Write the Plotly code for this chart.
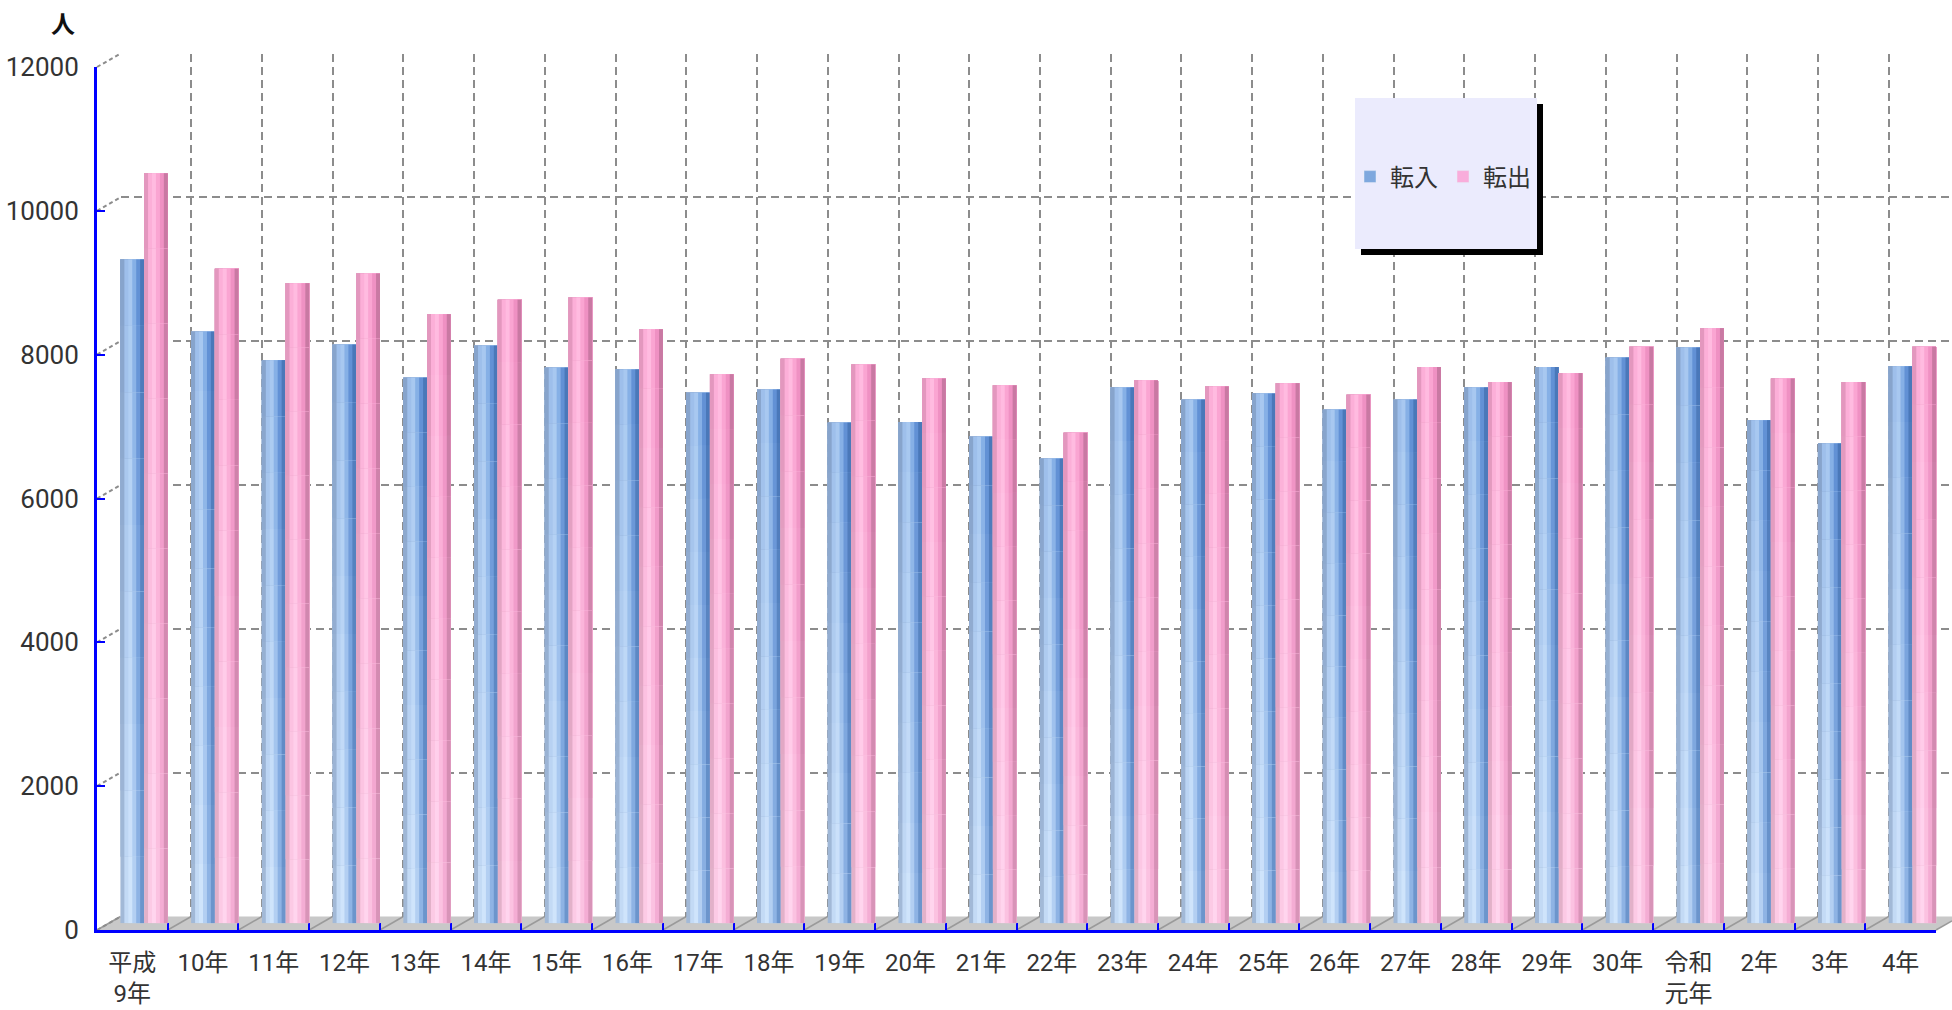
import plotly.graph_objects as go

# ---------------- data ----------------
categories = ['平成9年', '10年', '11年', '12年', '13年', '14年', '15年', '16年', '17年',
              '18年', '19年', '20年', '21年', '22年', '23年', '24年', '25年', '26年',
              '27年', '28年', '29年', '30年', '令和元年', '2年', '3年', '4年']
tick_labels = ['平成<br>9年', '10年', '11年', '12年', '13年', '14年', '15年', '16年', '17年',
               '18年', '19年', '20年', '21年', '22年', '23年', '24年', '25年', '26年',
               '27年', '28年', '29年', '30年', '令和<br>元年', '2年', '3年', '4年']
tennyu = [9230, 8225, 7830, 8045, 7585, 8030, 7725, 7700, 7375, 7420, 6960, 6970, 6765,
          6460, 7450, 7280, 7365, 7140, 7280, 7450, 7735, 7865, 8005, 6995, 6670, 7745]
tenshutsu = [10430, 9100, 8900, 9035, 8470, 8670, 8700, 8260, 7635, 7850, 7770, 7575, 7480,
             6820, 7550, 7465, 7510, 7350, 7735, 7525, 7650, 8015, 8275, 7575, 7525, 8015]
series_names = ['転入', '転出']
y_ticks = [0, 2000, 4000, 6000, 8000, 10000, 12000]

# ---------------- layout geometry (pixels) ----------------
W, H = 1952, 1010
XL, XR = 97, 1936          # front plot left / right
YB, YT = 930, 67           # front pixel of 0 / 12000
DX, DY = 23.5, 13.5        # 3-D depth offset
YMAX = 12000
ncat = len(categories)
catw = (XR - XL) / ncat


def px(x):
    return x / W


def py(y):
    return 1 - y / H


def yfront(v):
    return YB - (YB - YT) * v / YMAX


# ---------------- colours ----------------
def h2r(h):
    h = h.lstrip('#')
    return [int(h[i:i + 2], 16) for i in (0, 2, 4)]


def mix(c1, c2, t):
    a, b = h2r(c1), h2r(c2)
    return 'rgb(%d,%d,%d)' % tuple(round(a[i] + (b[i] - a[i]) * t) for i in range(3))


profiles = {
    '転入': (['#a3bad8', '#c5dbf6', '#d1e5fc', '#b5d1f3', '#90b5e5', '#6e97cd'],
           ['#86a3cb', '#9cbeea', '#a6c7ef', '#84aee5', '#608fd4', '#4876b8']),
    '転出': (['#e2b2ca', '#fccbe6', '#ffd6ef', '#fbc4e2', '#f4afd5', '#d996b9'],
           ['#e396bd', '#fcaed7', '#ffbadf', '#faa3d1', '#ef8fc2', '#c877a2']),
}
M, N = 6, 10
BW = 0.335
offsets = {'転入': -BW, '転出': 0.0}

fig = go.Figure()

# invisible traces so the front and back axes are drawn
fig.add_trace(go.Scatter(x=categories, y=[0] * ncat, xaxis='x', yaxis='y', mode='markers',
                         marker=dict(opacity=0), showlegend=False, hoverinfo='skip'))
fig.add_trace(go.Scatter(x=[0], y=[0], xaxis='x2', yaxis='y2', mode='markers',
                         marker=dict(opacity=0), showlegend=False, hoverinfo='skip'))

for name, vals in zip(series_names, [tennyu, tenshutsu]):
    bottom, top = profiles[name]
    for k in range(N):
        t = (k + 0.5) / N
        for j in range(M):
            # each layer runs to the top / right edge; later layers cover earlier ones
            fig.add_trace(go.Bar(
                x=categories,
                y=[v * (N - k) / N for v in vals],
                base=[v * k / N for v in vals],
                offset=offsets[name] + j * BW / M,
                width=BW * (M - j) / M,
                marker=dict(color=mix(bottom[j], top[j], t), line=dict(width=0)),
                xaxis='x3', yaxis='y3', showlegend=False, hoverinfo='skip'))

# legend entries
for name, col in zip(series_names, ['#7ea8de', '#f9addb']):
    fig.add_trace(go.Bar(x=[None], y=[None], name=name, marker=dict(color=col),
                         xaxis='x3', yaxis='y3', showlegend=True))

# ---------------- shapes ----------------
shapes = []
# floor
xr_clip = min(XR + DX, W)
yr_clip = YB - DY * (xr_clip - XR) / DX
floor_path = 'M %f %f L %f %f L %f %f L %f %f L %f %f Z' % (
    px(XL), py(YB), px(XR), py(YB), px(xr_clip), py(yr_clip),
    px(xr_clip), py(YB - DY), px(XL + DX), py(YB - DY))
shapes.append(dict(type='path', path=floor_path, xref='paper', yref='paper',
                   fillcolor='#c8c8c8', line=dict(width=0), layer='below'))
for i in range(ncat + 1):
    x0 = XL + i * catw
    x1 = min(x0 + DX, W)
    shapes.append(dict(type='line', xref='paper', yref='paper',
                       x0=px(x0), y0=py(YB), x1=px(x1), y1=py(YB - DY * (x1 - x0) / DX),
                       line=dict(color='#9a9a9a', width=1.5), layer='below'))
# side diagonals from front ticks to back wall
for v in y_ticks:
    shapes.append(dict(type='line', xref='paper', yref='paper',
                       x0=px(XL), y0=py(yfront(v)), x1=px(XL + DX), y1=py(yfront(v) - DY),
                       line=dict(color='#8c8c8c', width=2, dash='4px,3px'), layer='below'))
# legend box with shadow
LB = (1355, 98, 1537, 249)
shapes.append(dict(type='rect', xref='paper', yref='paper',
                   x0=px(LB[0] + 6), y0=py(LB[1] + 6), x1=px(LB[2] + 6), y1=py(LB[3] + 6),
                   fillcolor='black', line=dict(width=0), layer='above'))
shapes.append(dict(type='rect', xref='paper', yref='paper',
                   x0=px(LB[0]), y0=py(LB[1]), x1=px(LB[2]), y1=py(LB[3]),
                   fillcolor='#ebebfd', line=dict(width=0), layer='above'))

numfont = 'Roboto, Noto Sans CJK JP, sans-serif'

fig.update_layout(
    width=W, height=H,
    margin=dict(l=0, r=0, t=0, b=0, pad=0, autoexpand=False),
    paper_bgcolor='white', plot_bgcolor='rgba(0,0,0,0)',
    barmode='overlay',
    hovermode=False,
    showlegend=True,
    legend=dict(orientation='h', x=px(1350), xanchor='left', y=py(177), yanchor='middle',
                bgcolor='rgba(0,0,0,0)', font=dict(family='Noto Sans CJK JP', size=24,
                                                   color='#333333'),
                itemwidth=30, traceorder='normal'),
    # front axes (labels + blue axis lines)
    xaxis=dict(domain=[px(XL), px(XR)], type='category', categoryorder='array',
               categoryarray=categories, range=[-0.5, ncat - 0.5],
               tickmode='array', tickvals=categories, ticktext=tick_labels,
               tickson='boundaries', ticks='inside', ticklen=7, tickwidth=2,
               tickcolor='#0000ff', showline=True, linecolor='#0000ff', linewidth=3,
               showgrid=False, zeroline=False, ticklabelstandoff=9, automargin=False,
               tickfont=dict(family=numfont, size=24, color='#333333'), anchor='y'),
    yaxis=dict(domain=[py(YB), py(YT)], range=[0, YMAX], tickvals=y_ticks,
               tickformat='d', ticks='inside', ticklen=8, tickwidth=2, tickcolor='#0000ff',
               showline=True, linecolor='#0000ff', linewidth=3, showgrid=False,
               zeroline=False, ticklabelstandoff=10, automargin=False,
               tickfont=dict(family=numfont, size=26, color='#333333'), anchor='x'),
    # back wall grid
    xaxis2=dict(domain=[px(XL + DX), 1.0], type='linear',
                range=[-0.5, -0.5 + (W - XL - DX) / catw], tick0=-0.5, dtick=1,
                showgrid=True, gridcolor='#8c8c8c', gridwidth=2, griddash='8px,5px',
                showticklabels=False, ticks='', zeroline=False, showline=False,
                automargin=False, anchor='y2'),
    yaxis2=dict(domain=[py(YB - DY), py(YT - DY)], range=[0, YMAX], tickvals=y_ticks,
                showgrid=True, gridcolor='#8c8c8c', gridwidth=2, griddash='8px,5px',
                showticklabels=False, ticks='', zeroline=False, showline=False,
                automargin=False, anchor='x2'),
    # mid-depth axes for the bars
    xaxis3=dict(domain=[px(XL + DX / 2), px(XR + DX / 2)], type='category',
                categoryorder='array', categoryarray=categories, range=[-0.5, ncat - 0.5],
                visible=False, automargin=False, anchor='y3'),
    yaxis3=dict(domain=[py(YB - DY / 2), py(YT - DY / 2)], range=[0, YMAX],
                visible=False, automargin=False, anchor='x3'),
    shapes=shapes,
    annotations=[dict(text='<b>人</b>', x=px(63), y=py(22), xref='paper', yref='paper',
                      xanchor='center', yanchor='middle', showarrow=False,
                      font=dict(family='Noto Sans CJK JP', size=24, color='#111111'))],
)

fig.write_html('out.html', config={'displayModeBar': False},
               post_script="document.body.style.margin='0px';"
                           "document.body.style.padding='0px';"
                           "document.body.style.overflow='hidden';")
